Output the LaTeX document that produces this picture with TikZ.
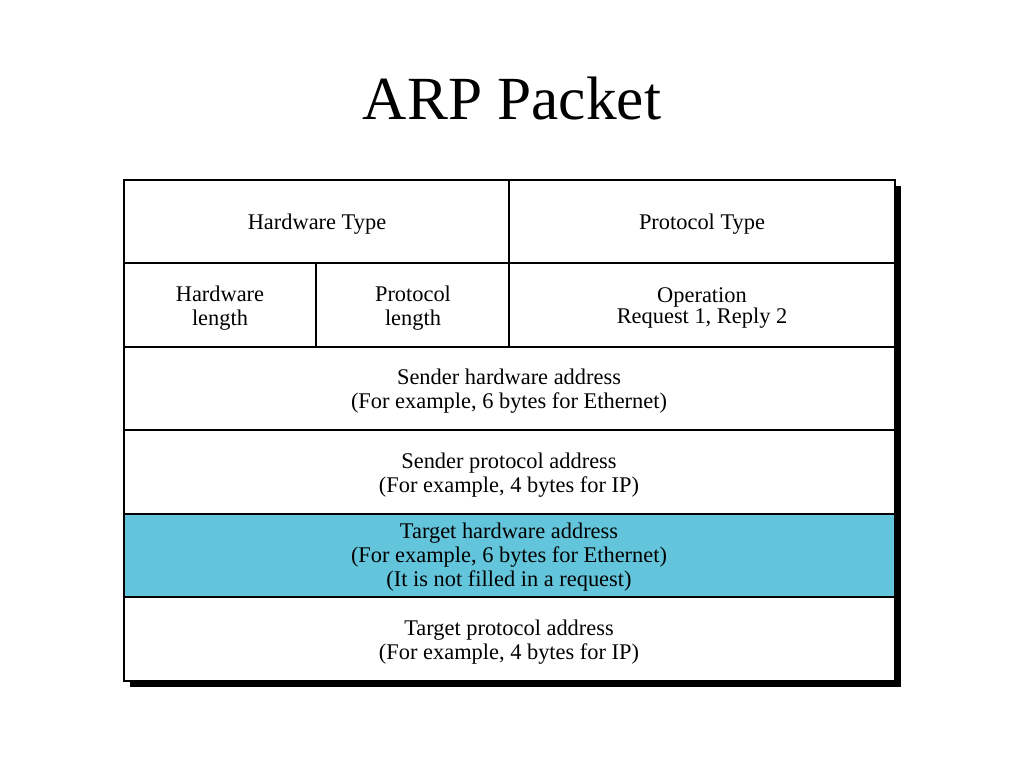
\documentclass[tikz,border=0pt]{standalone}
\usepackage{fontspec}
\setmainfont{Liberation Serif}
\definecolor{rowcyan}{RGB}{98,197,219}
\begin{document}
\begin{tikzpicture}[x=0.75pt,y=-0.75pt,
  cell/.style={draw=black,line width=1pt},
  txt/.style={align=center,font=\fontsize{16.8}{18}\selectfont,inner sep=0pt},
  titletxt/.style={font=\fontsize{46}{50}\selectfont,inner sep=0pt}]
\useasboundingbox (0,0) rectangle (1024,768);
\node[titletxt] (title) at (512,99) {ARP Packet};
% shadow
\fill[black] (130,186) rectangle (901,687);
% rows
\filldraw[cell,fill=white] (124,180) rectangle (509,263);
\filldraw[cell,fill=white] (509,180) rectangle (895,263);
\filldraw[cell,fill=white] (124,263) rectangle (316,347);
\filldraw[cell,fill=white] (316,263) rectangle (509,347);
\filldraw[cell,fill=white] (509,263) rectangle (895,347);
\filldraw[cell,fill=white] (124,347) rectangle (895,430);
\filldraw[cell,fill=white] (124,430) rectangle (895,514);
\filldraw[cell,fill=rowcyan] (124,514) rectangle (895,597);
\filldraw[cell,fill=white] (124,597) rectangle (895,681);
% texts
\node[txt] (hwtype) at (317,224) {Hardware Type};
\node[txt] (prtype) at (702,224) {Protocol Type};
\node[txt] (hwlen) at (220,308) {Hardware\\length};
\node[txt] (prlen) at (413,308) {Protocol\\length};
\node[txt] (op) at (702,308) {Operation\\[-2pt]Request 1, Reply 2};
\node[txt] (sha) at (509,391) {Sender hardware address\\(For example, 6 bytes for Ethernet)};
\node[txt] (spa) at (509,475) {Sender protocol address\\(For example, 4 bytes for IP)};
\node[txt] (tha) at (509,557) {Target hardware address\\(For example, 6 bytes for Ethernet)\\(It is not filled in a request)};
\node[txt] (tpa) at (509,642) {Target protocol address\\(For example, 4 bytes for IP)};
\end{tikzpicture}
\end{document}
